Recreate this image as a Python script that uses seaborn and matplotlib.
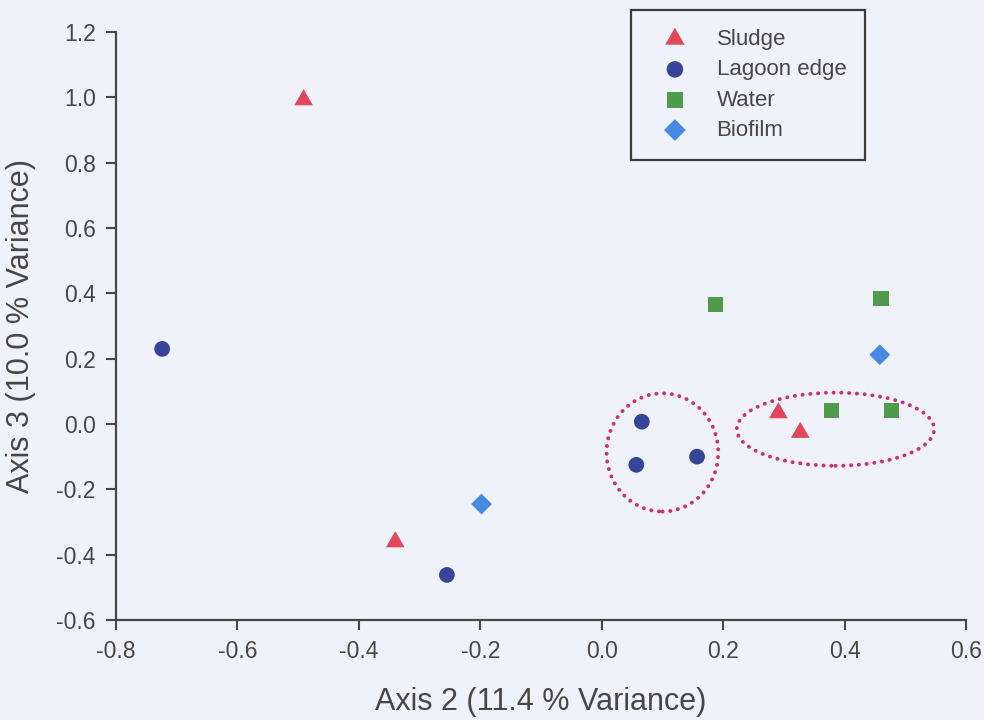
import numpy as np
import pandas as pd
import matplotlib
matplotlib.use("Agg")
import matplotlib.pyplot as plt
from matplotlib.patches import Ellipse
import seaborn as sns

# Ordination scores (Axis 2 vs Axis 3) per sample type
groups = ["Sludge", "Lagoon edge", "Water", "Biofilm"]
sludge_x = [-0.491, -0.340, 0.291, 0.327]
sludge_y = [0.992, -0.361, 0.034, -0.026]
lagoon_x = [-0.724, -0.255, 0.066, 0.057, 0.157]
lagoon_y = [0.230, -0.462, 0.007, -0.125, -0.100]
water_x = [0.188, 0.460, 0.378, 0.477]
water_y = [0.366, 0.383, 0.042, 0.040]
biofilm_x = [-0.198, 0.458]
biofilm_y = [-0.245, 0.212]

x_ticks = [-0.8, -0.6, -0.4, -0.2, 0.0, 0.2, 0.4, 0.6]
y_ticks = [-0.6, -0.4, -0.2, 0.0, 0.2, 0.4, 0.6, 0.8, 1.0, 1.2]

df = pd.concat([
    pd.DataFrame({"x": sludge_x, "y": sludge_y, "group": "Sludge"}),
    pd.DataFrame({"x": lagoon_x, "y": lagoon_y, "group": "Lagoon edge"}),
    pd.DataFrame({"x": water_x, "y": water_y, "group": "Water"}),
    pd.DataFrame({"x": biofilm_x, "y": biofilm_y, "group": "Biofilm"}),
], ignore_index=True)

bg = "#f0f2fb"
ink = "#4a4547"
sns.set_theme(style="ticks")
plt.rcParams["font.family"] = ["Liberation Sans", "DejaVu Sans"]

palette = {"Sludge": "#e2465a", "Lagoon edge": "#36449a",
           "Water": "#4f9a4b", "Biofilm": "#468ae6"}
tri = [(-1.0, -0.577), (1.0, -0.577), (0.0, 1.155)]
markers = {"Sludge": tri, "Lagoon edge": "o", "Water": "s", "Biofilm": "D"}
sizes = {"Sludge": 240, "Lagoon edge": 128, "Water": 117, "Biofilm": 112}

fig = plt.figure(figsize=(9.84, 7.2), dpi=100, facecolor=bg)
ax = fig.add_axes([116 / 984, 1 - 620 / 720, (966 - 116) / 984, (620 - 32) / 720])
ax.set_facecolor(bg)

for g in groups:
    sub = df[df["group"] == g]
    sns.scatterplot(data=sub, x="x", y="y", color=palette[g], marker=markers[g],
                    s=sizes[g], edgecolor="none", linewidth=0, label=g, ax=ax,
                    zorder=3)

# Dotted ellipses outlining the two clusters
dot_kw = dict(fill=False, edgecolor="#d0306f", linewidth=2.8,
              linestyle=(0, (0.05, 1.95)), zorder=2)
e1 = Ellipse((0.100, -0.087), 0.184, 0.362, **dot_kw)
e2 = Ellipse((0.385, -0.016), 0.325, 0.224, **dot_kw)
for e in (e1, e2):
    e.set_capstyle("round")
    ax.add_patch(e)

ax.set_xlim(-0.8, 0.6)
ax.set_ylim(-0.6, 1.2)
ax.set_xticks(x_ticks)
ax.set_yticks(y_ticks)
ax.set_xticklabels([f"{v:.1f}" for v in x_ticks])
ax.set_yticklabels([f"{v:.1f}" for v in y_ticks])

for side in ("top", "right"):
    ax.spines[side].set_visible(False)
for side in ("left", "bottom"):
    ax.spines[side].set_color(ink)
    ax.spines[side].set_linewidth(1.6)
ax.tick_params(axis="both", direction="out", length=7, width=1.5, color=ink,
               labelcolor=ink, labelsize=16.5, pad=7.5)

ax.set_xlabel("Axis 2 (11.4 % Variance)", fontsize=22, color=ink)
ax.set_ylabel("Axis 3 (10.0 % Variance)", fontsize=22, color=ink)
ax.xaxis.set_label_coords(0.5, -0.114)
ax.yaxis.set_label_coords(-0.094, 0.5)

leg = ax.legend(loc="upper left", bbox_to_anchor=(631 / 984, 1 - 10 / 720),
                bbox_transform=fig.transFigure, fontsize=16, frameon=True,
                fancybox=False, borderpad=0.85, labelspacing=0.42,
                handletextpad=0.75, borderaxespad=0, handlelength=2.25,
                markerscale=1.05)
frame = leg.get_frame()
frame.set_edgecolor("#3e3a3c")
frame.set_linewidth(1.6)
frame.set_facecolor(bg)
frame.set_alpha(1)
for t in leg.get_texts():
    t.set_color(ink)

fig.savefig("out.png", dpi=100, facecolor=bg)
